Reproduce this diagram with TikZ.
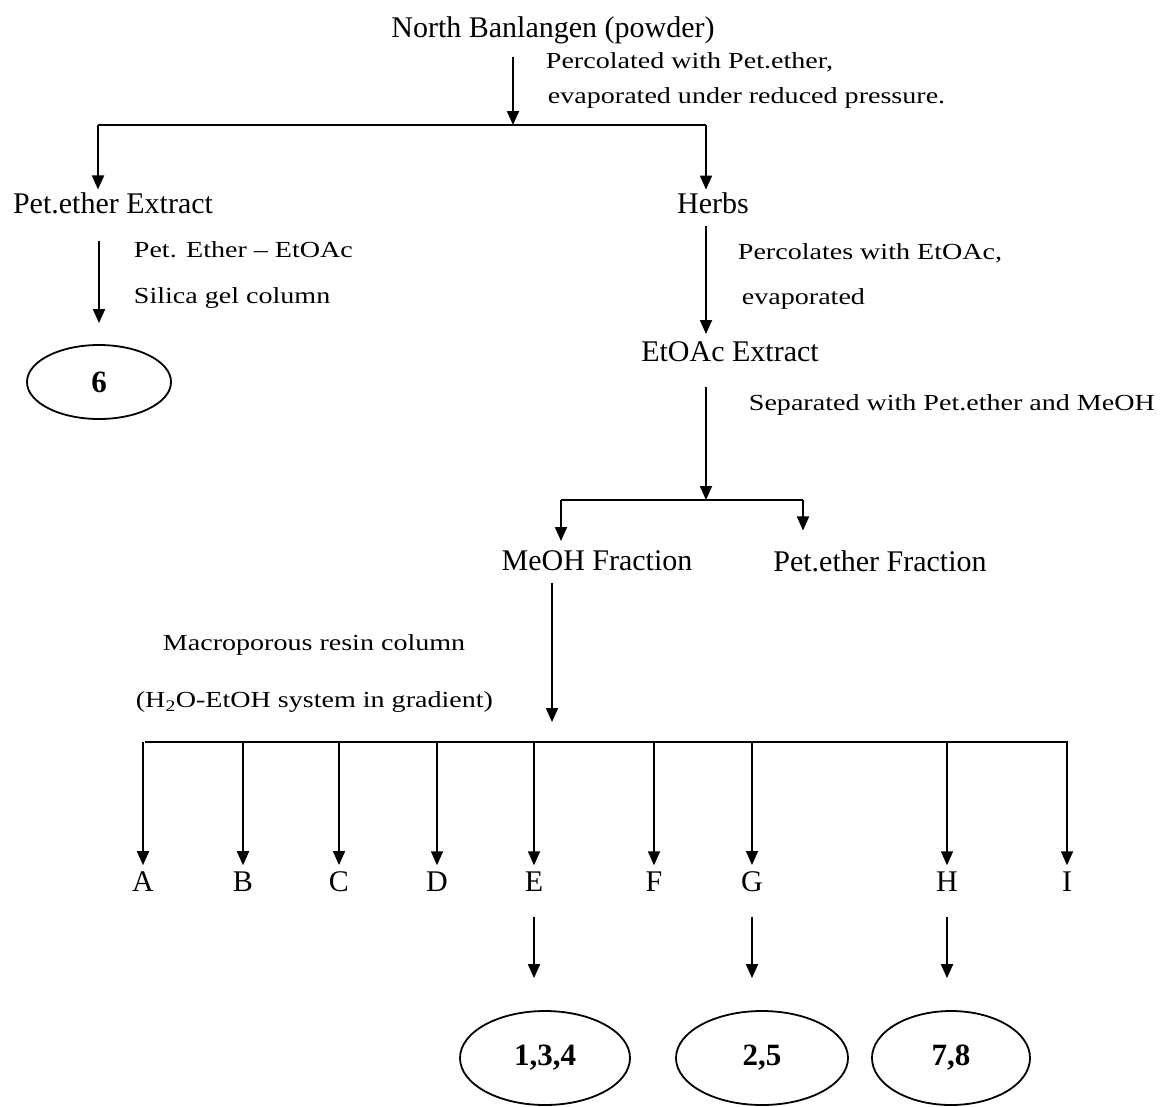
\documentclass[tikz,border=0pt]{standalone}
\usepackage{fontspec}
\setmainfont{Liberation Serif}
\newfontfamily\notefont[FakeStretch=1.22]{Liberation Serif}
\usetikzlibrary{arrows.meta,shapes.geometric}

\tikzset{
  big/.style={font=\fontsize{30}{34}\selectfont, inner sep=2pt},
  note/.style={font=\notefont\fontsize{23}{26}\selectfont, anchor=west, inner sep=0pt},
  flow/.style={-{Triangle[length=14pt,width=12pt]}},
  result/.style={ellipse, draw, minimum height=94pt, inner sep=0pt,
    font=\bfseries\fontsize{31}{34}\selectfont}
}

\begin{document}
\begin{tikzpicture}[x=1pt, y=-1pt, line width=1.8pt]
  \useasboundingbox (0,0) rectangle (1161,1106);

  \coordinate (s1) at (513,125);
  \coordinate (s1L) at (98,125);
  \coordinate (s1R) at (706,125);
  \coordinate (s2) at (706,500);
  \coordinate (s2L) at (561,500);
  \coordinate (s2R) at (803,500);
  \coordinate (s3) at (552,742);
  \coordinate (s3L) at (145,742);
  \coordinate (s3R) at (1068,742);

  \node[big] (root) at (553,30) {North Banlangen (powder)};
  \node[big] (petex) at (113,203) {Pet.ether Extract};
  \node[big] (herbs) at (713,203) {Herbs};
  \node[big] (etoac) at (730,352) {EtOAc Extract};
  \node[big] (meoh) at (597,561) {MeOH Fraction};
  \node[big] (petfr) at (880,561) {Pet.ether Fraction};
  \node[result, minimum width=144pt, minimum height=74pt] (c6) at (99,382) {6};
  \node[result, minimum width=170pt] (c134) at (545,1058) {1,3,4};
  \node[result, minimum width=172pt] (c25) at (762,1058) {2,5};
  \node[result, minimum width=158pt] (c78) at (951,1058) {7,8};

  \node[note] (n1) at (545,62) {Percolated with Pet.ether,};
  \node[note] (n2) at (547,98) {evaporated under reduced pressure.};
  \node[note] (n3) at (133,250) {Pet. Ether – EtOAc};
  \node[note] (n4) at (133,298) {Silica gel column};
  \node[note] (n5) at (737,253) {Percolates with EtOAc,};
  \node[note] (n6) at (741,299) {evaporated};
  \node[note] (n7) at (748,405) {Separated with Pet.ether and MeOH};
  \node[note] (n8) at (162,645) {Macroporous resin column};
  \node[note] (n9) at (135,702) {(H\textsubscript{2}O-EtOH system in gradient)};

  \draw[flow, shorten <=10pt] (root.south -| s1) -- (s1);
  \draw (s1L) -- (s1R);
  \draw[flow] (s1L) -- (s1L |- petex.north);
  \draw[flow] (s1R) -- (s1R |- herbs.north);
  \draw[flow, shorten <=24pt, shorten >=21pt] (petex.south -| c6) -- (c6.north);
  \draw[flow, shorten <=10pt, shorten >=5pt] (s1R |- herbs.south) -- (s1R |- etoac.north);

  \draw[flow, shorten <=22pt] (s2 |- etoac.south) -- (s2);
  \draw (s2L) -- (s2R);
  \draw[flow, shorten >=7pt] (s2L) -- (s2L |- meoh.north);
  \draw[flow, shorten >=17pt] (s2R) -- (s2R |- petfr.north);

  \draw[flow, shorten <=9pt, shorten >=20pt] (s3 |- meoh.south) -- (s3);
  \draw (s3L) -- (s3R);
  \foreach \n/\x in {A/143,B/243,C/339,D/437,E/534,F/654,G/752,H/947,I/1067} {
    \node[big] (f\n) at (\x,882) {\n};
    \draw[flow, shorten >=4pt] (s3L -| f\n.north) -- (f\n.north);
  }

  \draw[flow, shorten <=22pt, shorten >=32pt] (fE.south) -- (fE.south |- c134.north);
  \draw[flow, shorten <=22pt, shorten >=32pt] (fG.south) -- (fG.south |- c25.north);
  \draw[flow, shorten <=22pt, shorten >=32pt] (fH.south) -- (fH.south |- c78.north);
\end{tikzpicture}
\end{document}
